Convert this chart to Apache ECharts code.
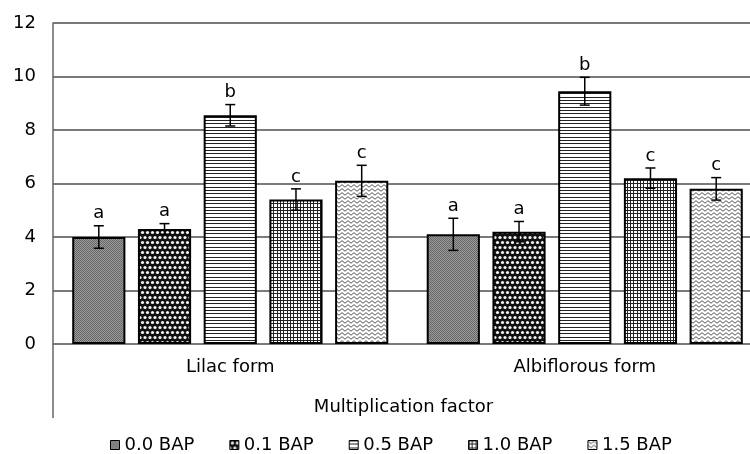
<!DOCTYPE html>
<html>
<head>
<meta charset="utf-8">
<script src="https://cdn.jsdelivr.net/npm/echarts@6/dist/echarts.min.js"></script>
<style>html,body{margin:0;padding:0;background:#fff;overflow:hidden}#c{width:750px;height:454px}</style>
</head>
<body>
<div id="c"></div>
<script>
// ---- data ----
const categories = ['Lilac form', 'Albiflorous form'];
const seriesNames = ['0.0 BAP', '0.1 BAP', '0.5 BAP', '1.0 BAP', '1.5 BAP'];
const bap00 = [4.0, 4.1];
const bap01 = [4.3, 4.2];
const bap05 = [8.55, 9.45];
const bap10 = [5.4, 6.2];
const bap15 = [6.1, 5.8];
const err00 = [0.42, 0.6];
const err01 = [0.2, 0.38];
const err05 = [0.4, 0.52];
const err10 = [0.4, 0.38];
const err15 = [0.58, 0.42];
const letters = [['a', 'a'], ['a', 'a'], ['b', 'b'], ['c', 'c'], ['c', 'c']];
const yTicks = [0, 2, 4, 6, 8, 10, 12];
const xAxisTitle = 'Multiplication factor';

const means = [bap00, bap01, bap05, bap10, bap15];
const errs = [err00, err01, err05, err10, err15];

// ---- patterns ----
function mk(w, h, draw) {
  const c = document.createElement('canvas');
  c.width = w; c.height = h;
  const g = c.getContext('2d');
  draw(g, w, h);
  return { image: c, repeat: 'repeat' };
}
const patterns = [
  mk(2, 2, g => { g.fillStyle = '#9c9c9c'; g.fillRect(0,0,2,2); g.fillStyle = '#666'; g.fillRect(0,0,1,1); g.fillRect(1,1,1,1); }),
  mk(10, 10, g => {
    g.fillStyle = '#111'; g.fillRect(0,0,10,10);
    g.fillStyle = '#f4f4f4';
    [[2.5,2.5],[7.5,2.5],[0,7.5],[5,7.5],[10,7.5]].forEach(p => { g.beginPath(); g.arc(p[0], p[1], 1.6, 0, Math.PI*2); g.fill(); });
  }),
  mk(1, 10, g => { g.fillStyle = '#fff'; g.fillRect(0,0,1,10); g.fillStyle = '#222'; [0,3,7].forEach(y => g.fillRect(0,y,1,1)); }),
  mk(10, 10, g => { g.fillStyle = '#fff'; g.fillRect(0,0,10,10); g.fillStyle = '#222'; [0,3,7].forEach(v => { g.fillRect(0,v,10,1); g.fillRect(v,0,1,10); }); }),
  mk(6, 4, g => { g.fillStyle = '#fff'; g.fillRect(0,0,6,4); g.strokeStyle = '#555'; g.lineWidth = 1; g.beginPath(); g.moveTo(0,0.7); g.lineTo(3,3.2); g.lineTo(6,0.7); g.stroke(); })
];

const FONT = 'DejaVu Sans';
const BAR_FRAC = 0.15;
const GAP_FRAC = 0.236;

const barSeries = seriesNames.map((n, i) => ({
  name: n,
  type: 'bar',
  data: means[i],
  barWidth: (BAR_FRAC * 100) + '%',
  barGap: (GAP_FRAC * 100) + '%',
  itemStyle: { color: patterns[i], borderColor: '#000', borderWidth: 2 },
  z: 2
}));

const errData = [];
seriesNames.forEach((n, i) => {
  categories.forEach((c, j) => { errData.push([j, i, means[i][j], errs[i][j], letters[i][j]]); });
});

const errSeries = {
  type: 'custom',
  name: 'err',
  data: errData,
  z: 5,
  silent: true,
  renderItem: function (params, api) {
    const cat = api.value(0), s = api.value(1), m = api.value(2), e = api.value(3);
    const letter = errData[params.dataIndex][4];
    const bandW = api.size([1, 0])[0];
    const bw = bandW * BAR_FRAC;
    const step = bw * (1 + GAP_FRAC);
    const c = api.coord([cat, m]);
    const x = c[0] + (s - 2) * step;
    const top = api.coord([cat, m + e])[1];
    const bot = api.coord([cat, m - e])[1];
    const st = { stroke: '#000', lineWidth: 1.5 };
    return {
      type: 'group',
      children: [
        { type: 'line', shape: { x1: x, y1: top, x2: x, y2: bot }, style: st },
        { type: 'line', shape: { x1: x - 5, y1: top, x2: x + 5, y2: top }, style: st },
        { type: 'line', shape: { x1: x - 5, y1: bot, x2: x + 5, y2: bot }, style: st },
        { type: 'text', style: { text: letter, x: x, y: top - 3, textAlign: 'center', textVerticalAlign: 'bottom', font: '18px "' + FONT + '"', fill: '#000' } }
      ]
    };
  }
};

const chart = echarts.init(document.getElementById('c'));
chart.setOption({
  animation: false,
  textStyle: { fontFamily: FONT },
  grid: { left: 53, width: 709, top: 23, height: 321, containLabel: false, outerBoundsMode: 'none' },
  legend: {
    data: seriesNames,
    left: 105,
    top: 431,
    icon: 'rect',
    itemWidth: 9,
    itemHeight: 9,
    itemGap: 35,
    itemStyle: { borderWidth: 1, borderColor: '#000' },
    textStyle: { fontSize: 18, color: '#000', fontFamily: FONT }
  },
  xAxis: {
    type: 'category',
    data: categories,
    axisLine: { show: false },
    axisTick: { show: false },
    axisLabel: { fontSize: 18, color: '#000', margin: 14, fontFamily: FONT },
    name: xAxisTitle,
    nameLocation: 'middle',
    nameGap: 54,
    nameTextStyle: { fontSize: 18, color: '#000', fontFamily: FONT, padding: [0, 8, 0, 0] }
  },
  yAxis: {
    type: 'value',
    min: yTicks[0],
    max: yTicks[yTicks.length - 1],
    interval: yTicks[1] - yTicks[0],
    axisLine: { show: true, lineStyle: { color: '#666', width: 1.5 } },
    axisTick: { show: false },
    axisLabel: { fontSize: 18, color: '#000', margin: 17, fontFamily: FONT },
    splitLine: { lineStyle: { color: '#7a7a7a', width: 2 } }
  },
  series: barSeries.concat([errSeries])
});

// extend y-axis line below the plot, as in the reference
const y0 = chart.convertToPixel({ yAxisIndex: 0 }, 0);
chart.setOption({
  graphic: [{ type: 'line', shape: { x1: 53, y1: y0, x2: 53, y2: y0 + 74 }, style: { stroke: '#666', lineWidth: 1.5 }, z: 10 }]
});
</script>
</body>
</html>
